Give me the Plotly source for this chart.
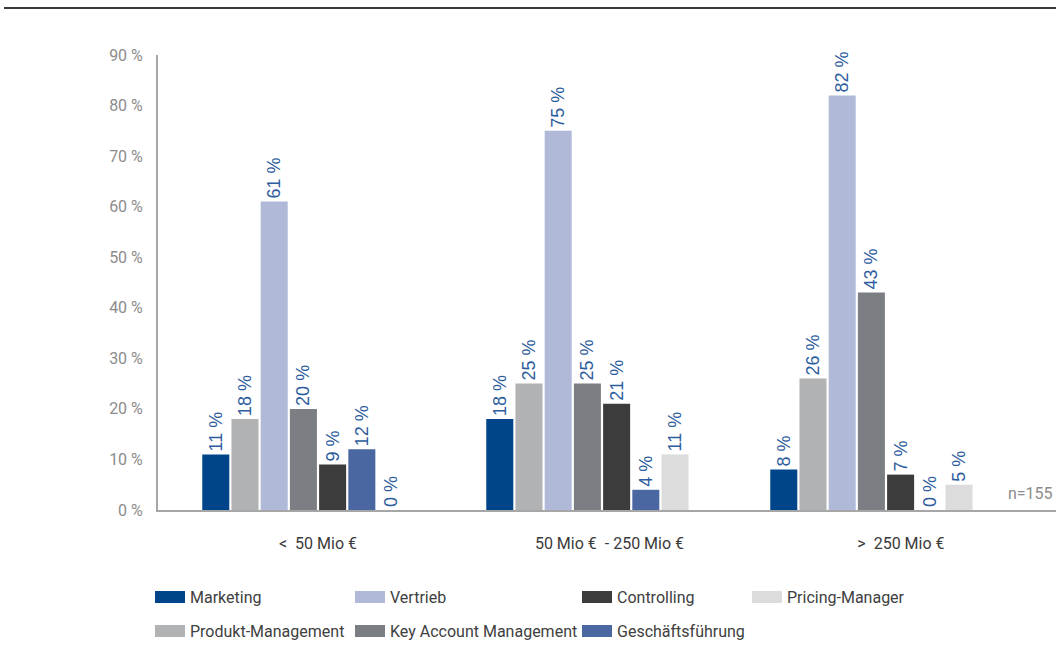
import plotly.graph_objects as go

categories = ["< 50 Mio €", "50 Mio € - 250 Mio €", "> 250 Mio €"]
label_text = ["<  50 Mio €", "50 Mio €  - 250 Mio €", ">  250 Mio €"]

series_names = ["Marketing", "Produkt-Management", "Vertrieb", "Key Account Management",
                "Controlling", "Geschäftsführung", "Pricing-Manager"]
marketing = [11, 18, 8]
produkt_management = [18, 25, 26]
vertrieb = [61, 75, 82]
key_account = [20, 25, 43]
controlling = [9, 21, 7]
geschaeftsfuehrung = [12, 4, 0]
pricing_manager = [0, 11, 5]
series_values = [marketing, produkt_management, vertrieb, key_account,
                 controlling, geschaeftsfuehrung, pricing_manager]
colors = ["#00458a", "#b1b2b4", "#b0b9d8", "#7b7f83", "#3c3c3c", "#4a67a1", "#dcdcdd"]

y_ticks = [0, 10, 20, 30, 40, 50, 60, 70, 80, 90]
y_tick_text = [f"{v} %" for v in y_ticks]
n_note = "n=155"

NARROW = "Roboto, Liberation Sans, sans-serif"
REG = "Liberation Sans, Arial, sans-serif"

fig = go.Figure()
for name, vals, col in zip(series_names, series_values, colors):
    fig.add_trace(go.Bar(
        x=categories, y=vals, name=name,
        marker=dict(color=col, line=dict(width=0)),
        text=[f"{v} %" for v in vals], textposition="outside", textangle=-90,
        textfont=dict(family=REG, size=18, color="#2d5c9e"),
        constraintext="none", cliponaxis=False, showlegend=False,
    ))

# invisible trace carrying the category labels on an overlaid axis
fig.add_trace(go.Scatter(x=label_text, y=[None] * 3, xaxis="x2", mode="markers",
                         showlegend=False, hoverinfo="skip"))

W, H = 1056, 666
L, R, T, B = 158, 0, 55, 156
pw, ph = W - L - R, H - T - B

def px_x(x):
    return (x - L) / pw

def px_y(y):
    return (H - B - y) / ph

fig.update_layout(
    width=W, height=H,
    margin=dict(l=L, r=R, t=T, b=B),
    paper_bgcolor="white", plot_bgcolor="white",
    barmode="group", bargap=0.28, bargroupgap=0.075,
    xaxis=dict(type="category", range=[-0.512, 2.65], showticklabels=False,
               showline=True, linecolor="#a6a6a6", linewidth=2, ticks="",
               showgrid=False, zeroline=False, fixedrange=True),
    xaxis2=dict(type="category", overlaying="x", side="bottom", anchor="y",
                range=[-0.549, 2.532], showline=False, showgrid=False, ticks="",
                tickfont=dict(family=NARROW, size=16, color="#3a3a3a"),
                ticklabelstandoff=22, zeroline=False),
    yaxis=dict(range=[0, 90], tickmode="array", tickvals=y_ticks, ticktext=y_tick_text,
               tickfont=dict(family=NARROW, size=16, color="#8c8c8c"),
               showline=True, linecolor="#a6a6a6", linewidth=2, ticks="",
               showgrid=False, zeroline=False, ticklabelstandoff=10),
    font=dict(family=NARROW),
)

# top rule
fig.add_shape(type="line", xref="paper", yref="paper",
              x0=px_x(4), x1=1.0, y0=px_y(8), y1=px_y(8),
              line=dict(color="#3a3a3a", width=2))

# n note
fig.add_annotation(text=n_note, xref="paper", yref="paper", x=px_x(1006), y=px_y(493),
                   xanchor="left", yanchor="middle", showarrow=False,
                   font=dict(family=NARROW, size=16, color="#8c8c8c"))

# legend (manual, 4 columns x 2 rows)
legend_order = ["Marketing", "Vertrieb", "Controlling", "Pricing-Manager",
                "Produkt-Management", "Key Account Management", "Geschäftsführung"]
col_x = [155, 355, 582, 752]
row_y = [597, 631]
for i, name in enumerate(legend_order):
    r, c = divmod(i, 4)
    col = colors[series_names.index(name)]
    x0 = col_x[c]
    yc = row_y[r]
    fig.add_shape(type="rect", xref="paper", yref="paper",
                  x0=px_x(x0), x1=px_x(x0 + 30), y0=px_y(yc + 6), y1=px_y(yc - 6),
                  fillcolor=col, line=dict(width=0))
    fig.add_annotation(text=name, xref="paper", yref="paper", x=px_x(x0 + 33), y=px_y(yc),
                       xanchor="left", yanchor="middle", showarrow=False,
                       font=dict(family=NARROW, size=16, color="#404040"))

fig.write_html("out.html", config={"displayModeBar": False},
               post_script="document.body.style.margin='0';")
